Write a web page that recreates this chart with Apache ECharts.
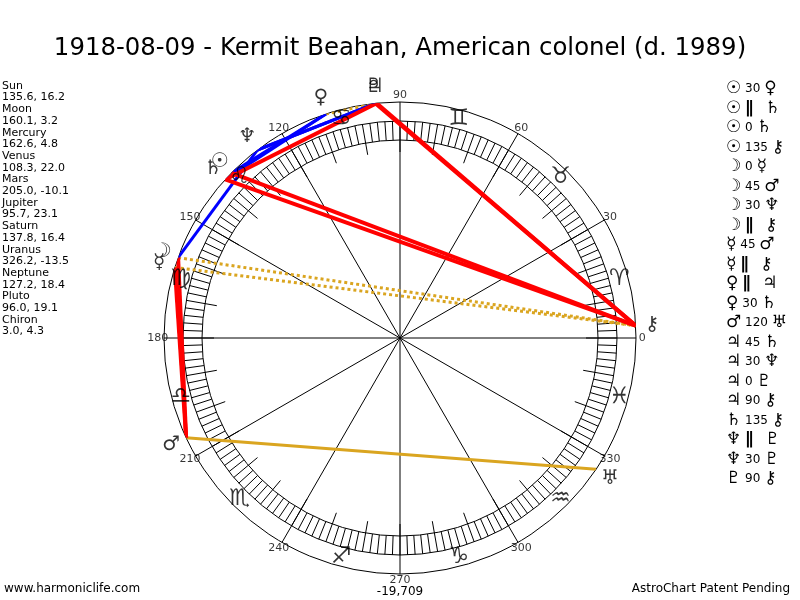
<!DOCTYPE html>
<html lang="en">
<head>
<meta charset="UTF-8">
<title>1918-08-09 - Kermit Beahan</title>
<style>
    html, body { margin: 0; padding: 0; background: #fff; }
    #chart { width: 800px; height: 600px; }
</style>
</head>
<body>
<div id="chart"></div>
<script src="https://cdn.jsdelivr.net/npm/echarts@6/dist/echarts.min.js"></script>
<script>
    // planet data: ecliptic longitude, declination
    var planetNames = ['Sun', 'Moon', 'Mercury', 'Venus', 'Mars', 'Jupiter', 'Saturn', 'Uranus', 'Neptune', 'Pluto', 'Chiron'];
    var planetGlyphs = ['☉', '☽', '☿', '♀', '♂', '♃', '♄', '♅', '♆', '♇', '⚷'];
    var longitudes = [135.6, 160.1, 162.6, 108.3, 205.0, 95.7, 137.8, 326.2, 127.2, 96.0, 3.0];
    var declinations = [16.2, 3.2, 4.8, 22.0, -10.1, 23.1, 16.4, -13.5, 18.4, 19.1, 4.3];

    var signGlyphs = ['♈', '♉', '♊', '♋', '♌', '♍', '♎', '♏', '♐', '♑', '♒', '♓'];
    var degreeLabels = [0, 30, 60, 90, 120, 150, 180, 210, 240, 270, 300, 330];

    // aspects: planet, aspect, planet  ('||' = parallel)
    var aspects = [
        ['Sun', '30', 'Venus'],
        ['Sun', '||', 'Saturn'],
        ['Sun', '0', 'Saturn'],
        ['Sun', '135', 'Chiron'],
        ['Moon', '0', 'Mercury'],
        ['Moon', '45', 'Mars'],
        ['Moon', '30', 'Neptune'],
        ['Moon', '||', 'Chiron'],
        ['Mercury', '45', 'Mars'],
        ['Mercury', '||', 'Chiron'],
        ['Venus', '||', 'Jupiter'],
        ['Venus', '30', 'Saturn'],
        ['Mars', '120', 'Uranus'],
        ['Jupiter', '45', 'Saturn'],
        ['Jupiter', '30', 'Neptune'],
        ['Jupiter', '0', 'Pluto'],
        ['Jupiter', '90', 'Chiron'],
        ['Saturn', '135', 'Chiron'],
        ['Neptune', '||', 'Pluto'],
        ['Neptune', '30', 'Pluto'],
        ['Pluto', '90', 'Chiron']
    ];

    var aspectStyles = {
        '30': {color: '#0000ff', width: 3, type: 'solid', z: 3},
        '45': {color: '#ff0000', width: 4, type: 'solid', z: 4},
        '90': {color: '#ff0000', width: 4, type: 'solid', z: 4},
        '135': {color: '#ff0000', width: 4, type: 'solid', z: 4},
        '120': {color: '#daa520', width: 3, type: 'solid', z: 3},
        '||': {color: '#daa520', width: 3, type: [3, 3], z: 2}
    };

    var FONT = 'DejaVu Sans';
    var CX = 400, CY = 338;

    var lon = function (name) {
        return longitudes[planetNames.indexOf(name)];
    };
    var glyph = function (name) {
        return planetGlyphs[planetNames.indexOf(name)];
    };

    var series = [];

    aspects.forEach(function (a) {
        var st = aspectStyles[a[1]];
        if (!st) {
            return;
        }
        series.push({
            type: 'line',
            coordinateSystem: 'polar',
            polarIndex: 0,
            symbol: 'none',
            silent: true,
            clip: false,
            z: st.z,
            lineStyle: {color: st.color, width: st.width, type: st.type, cap: 'butt'},
            data: [[1, lon(a[0])], [1, lon(a[2])]]
        });
    });

    // zodiac signs in the middle of each 30 degree segment
    series.push({
        type: 'scatter',
        coordinateSystem: 'polar',
        polarIndex: 0,
        clip: false,
        silent: true,
        symbolSize: 1,
        itemStyle: {color: 'rgba(0,0,0,0)'},
        z: 5,
        label: {
            show: true,
            position: 'inside',
            fontFamily: FONT,
            fontSize: 23,
            color: '#000',
            formatter: function (p) {
                return p.data[2];
            }
        },
        data: signGlyphs.map(function (g, i) {
            return [0.962, i * 30 + 15, g + '\uFE0E'];
        })
    });

    // degree labels
    series.push({
        type: 'scatter',
        coordinateSystem: 'polar',
        polarIndex: 0,
        clip: false,
        silent: true,
        symbolSize: 1,
        itemStyle: {color: 'rgba(0,0,0,0)'},
        z: 5,
        label: {
            show: true,
            position: 'inside',
            fontFamily: FONT,
            fontSize: 11,
            color: '#000',
            formatter: function (p) {
                return String(p.data[1]);
            }
        },
        data: degreeLabels.map(function (d) {
            return [1.027, d];
        })
    });

    // planet glyphs outside the wheel
    series.push({
        type: 'scatter',
        coordinateSystem: 'polar',
        polarIndex: 0,
        clip: false,
        silent: true,
        symbolSize: 1,
        itemStyle: {color: 'rgba(0,0,0,0)'},
        z: 6,
        label: {
            show: true,
            position: 'inside',
            fontFamily: FONT,
            fontSize: 20,
            color: '#000',
            formatter: function (p) {
                return p.data[2];
            }
        },
        data: planetNames.map(function (n, i) {
            return [1.07, longitudes[i], planetGlyphs[i] + '\uFE0E'];
        })
    });

    var polarAngle = function (idx, interval, opts) {
        return Object.assign({
            polarIndex: idx,
            type: 'value',
            min: 0,
            max: 360,
            interval: interval,
            startAngle: 0,
            clockwise: false,
            axisLine: {show: true, lineStyle: {color: '#000', width: 1}},
            axisTick: {show: false},
            axisLabel: {show: false},
            splitLine: {show: false}
        }, opts || {});
    };
    var polarRadius = function (idx) {
        return {
            polarIndex: idx, type: 'value', min: 0, max: 1,
            axisLine: {show: false}, axisTick: {show: false},
            axisLabel: {show: false}, splitLine: {show: false}
        };
    };

    // left column: positions
    var leftLines = [];
    planetNames.forEach(function (n, i) {
        leftLines.push(n);
        leftLines.push(longitudes[i].toFixed(1) + ', ' + declinations[i].toFixed(1));
    });

    var graphics = [
        {
            type: 'text', left: 2, top: 80,
            style: {text: leftLines.join('\n'), font: '11px "DejaVu Sans"', lineHeight: 11.7, fill: '#000'}
        },
        {
            type: 'text', left: 4, top: 583,
            style: {text: 'www.harmoniclife.com', font: '12px "DejaVu Sans"', fill: '#000'}
        },
        {
            type: 'text', right: 10, top: 583,
            style: {text: 'AstroChart Patent Pending', font: '12px "DejaVu Sans"', fill: '#000'}
        },
        {
            type: 'text', x: 400, y: 592,
            style: {text: '-19,709', font: '12px "DejaVu Sans"', fill: '#000', align: 'center', verticalAlign: 'middle'}
        }
    ];
    // right column: aspect list
    aspects.forEach(function (a, i) {
        var mid = a[1] === '||' ? '{p|∥}   ' : '{n|' + a[1] + '} ';
        graphics.push({
            type: 'text',
            x: 726,
            y: 89 + i * 19.5,
            style: {
                text: '{g|' + glyph(a[0]) + '} ' + mid + '{g|' + glyph(a[2]) + '}',
                font: '12px "DejaVu Sans"',
                fill: '#000',
                verticalAlign: 'middle',
                rich: {
                    g: {fontFamily: FONT, fontSize: 17, fill: '#000'},
                    n: {fontFamily: FONT, fontSize: 12, fill: '#000'},
                    p: {fontFamily: FONT, fontSize: 17, fontWeight: 'bold', fill: '#000'}
                }
            }
        });
    });

    var option = {
        animation: false,
        backgroundColor: '#fff',
        title: {
            text: '1918-08-09 - Kermit Beahan, American colonel (d. 1989)',
            left: 'center',
            top: 32,
            textStyle: {fontFamily: FONT, fontSize: 24.4, fontWeight: 'normal', color: '#000'}
        },
        polar: [
            {center: [CX, CY], radius: 236},
            {center: [CX, CY], radius: 217},
            {center: [CX, CY], radius: 198}
        ],
        angleAxis: [
            polarAngle(0, 30, {splitLine: {show: true, lineStyle: {color: '#000', width: 1}}}),
            polarAngle(1, 2, {axisTick: {show: true, inside: true, length: 19, lineStyle: {color: '#000', width: 1}}}),
            polarAngle(2, 10, {axisTick: {show: true, inside: true, length: 12, lineStyle: {color: '#000', width: 1}}})
        ],
        radiusAxis: [polarRadius(0), polarRadius(1), polarRadius(2)],
        graphic: graphics,
        series: series
    };

    var myChart = echarts.init(document.getElementById('chart'));
    myChart.setOption(option);
</script>
</body>
</html>
